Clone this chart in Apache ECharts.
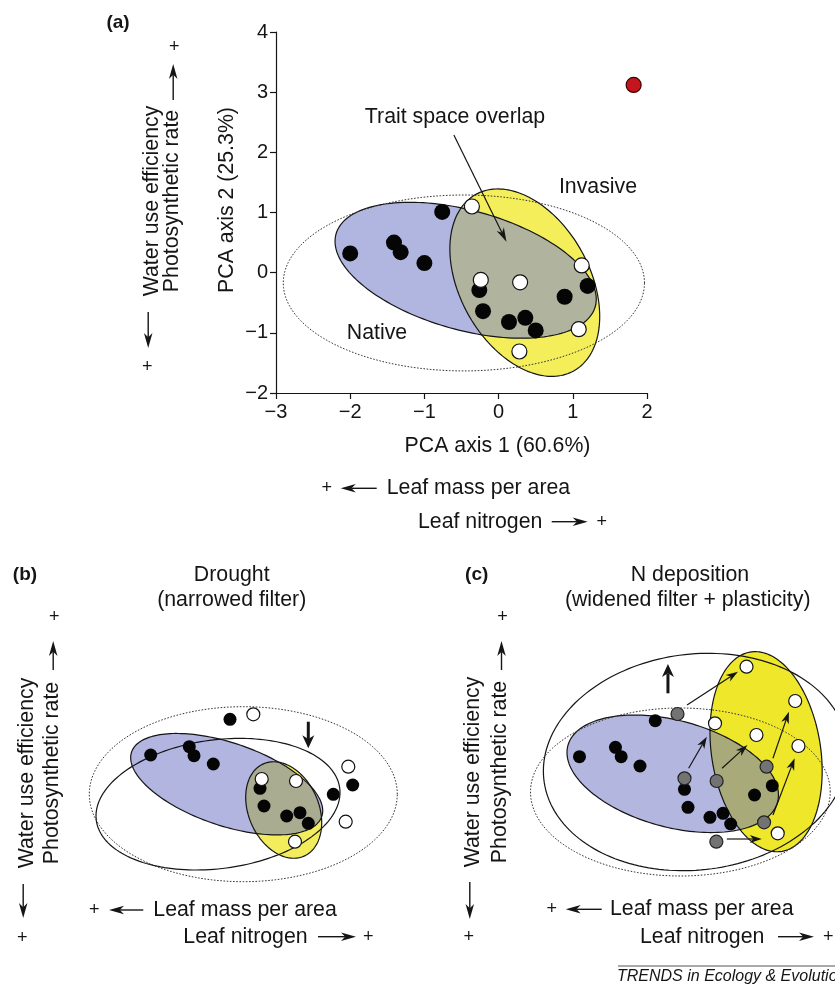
<!DOCTYPE html>
<html><head><meta charset="utf-8">
<script src="https://cdn.jsdelivr.net/npm/echarts@6/dist/echarts.min.js"></script>
<style>html,body{margin:0;padding:0;background:#fff}#chart{width:835px;height:985px}</style>
</head><body><div id="chart"></div>
<script>
// ---------------- DATA ----------------
// Panel (a): PCA scores
const aXTicks = [-3, -2, -1, 0, 1, 2];
const aYTicks = [-2, -1, 0, 1, 2, 3, 4];
const aNativePts = [[-2.00,0.32],[-1.41,0.50],[-1.32,0.34],[-1.00,0.16],[-0.76,1.01],[-0.26,-0.29],[-0.21,-0.64],[0.14,-0.82],[0.36,-0.75],[0.50,-0.96],[0.89,-0.40],[1.20,-0.22]];
const aInvasivePts = [[-0.36,1.10],[-0.24,-0.12],[0.29,-0.16],[1.12,0.12],[1.08,-0.94],[0.28,-1.31]];
const aOutlierPts = [[1.82,3.12]];
// ellipses: [centerX, centerY, half-axis1 dx, dy, half-axis2 dx, dy]
const aNativeEllipse = [-0.444, 0.04, 1.747, -0.603, -0.216, -0.955];
const aInvasiveEllipse = [0.353, -0.166, 0.659, -1.467, -0.765, -0.523];
const aAllEllipse = [-0.468, -0.171, 2.434, 0, 0, 1.462];
const aOverlapArrow = [[-0.603, 2.287, 0.106, 0.515]];

// Panel (b): drought (schematic units)
const bNativePts = [[15.0,18.07],[7.07,14.5],[10.93,15.33],[11.4,14.43],[13.33,13.6],[18.0,11.17],[18.4,9.4],[20.67,8.4],[22.0,8.73],[22.83,7.67],[25.33,10.57],[27.27,11.5]];
const bInvasivePts = [[17.33,18.57],[18.17,12.1],[21.6,11.9],[26.83,13.33],[26.57,7.83],[21.5,5.83]];
const bNativeEllipse = [14.67, 11.58, 9.51, -3.22, -1.327, -3.92];
const bInvasiveEllipse = [20.37, 9.0, 2.027, -4.615, -3.214, -1.41];
const bFilterEllipse = [13.8, 9.58, 12.17, 1.62, 0.852, -6.38];
const bAllEllipse = [16.33, 10.58, 15.4, 0, 0, 8.75];
const bFilterShift = [[22.83, 17.83, 22.83, 15.17]];

// Panel (c): N deposition (schematic units)
const cNativePts = [[6.23,14.33],[10.0,15.27],[10.6,14.33],[12.57,13.4],[14.17,17.93],[17.23,11.07],[17.6,9.27],[19.9,8.27],[21.27,8.67],[22.07,7.6],[24.57,10.5],[26.43,11.43]];
const cInvasiveBefore = [[16.5,18.6],[17.23,12.17],[20.6,11.9],[25.83,13.33],[25.57,7.77],[20.57,5.83]];
const cInvasiveAfter = [[23.73,23.33],[20.43,17.67],[24.77,16.5],[28.83,19.9],[29.17,15.4],[27.0,6.67]];
const cPlasticShifts = [[17.5,19.5,22.83,22.83],[17.67,13.17,19.57,16.33],[21.17,13.17,23.83,15.5],[26.5,14.17,28.17,18.83],[26.5,8.5,28.77,14.17],[21.67,6.1,25.33,6.1]];
const cNativeEllipse = [16.0, 12.62, 11.0, -2.755, -1.30, -5.19];
const cInvasiveEllipse = [25.78, 14.83, 1.684, -9.96, -5.63, -0.952];
const cFilterEllipse = [18.4, 13.8, 15.91, 1.67, 1.129, -10.74];
const cAllEllipse = [16.8, 10.8, 15.7, 0, 0, 8.4];
const cFilterShift = [[15.5, 20.67, 15.5, 23.6]];

// ---------------- HELPERS ----------------
const FONT = '"Liberation Sans", Arial, Helvetica, sans-serif';
const INK = '#151515';
const FS = 21.3;

function ellipsePoints(api, e, n) {
  n = n || 180;
  const pts = [];
  for (let i = 0; i < n; i++) {
    const t = 2 * Math.PI * i / n, c = Math.cos(t), s = Math.sin(t);
    pts.push(api.coord([e[0] + e[2] * c + e[4] * s, e[1] + e[3] * c + e[5] * s]));
  }
  return pts;
}
function clipConvex(subject, clip) {
  let area = 0;
  for (let i = 0; i < clip.length; i++) {
    const p = clip[i], q = clip[(i + 1) % clip.length];
    area += p[0] * q[1] - q[0] * p[1];
  }
  const sg = area > 0 ? 1 : -1;
  let out = subject.slice();
  for (let i = 0; i < clip.length && out.length; i++) {
    const A = clip[i], B = clip[(i + 1) % clip.length];
    const cr = p => sg * ((B[0] - A[0]) * (p[1] - A[1]) - (B[1] - A[1]) * (p[0] - A[0]));
    const inp = out; out = [];
    for (let j = 0; j < inp.length; j++) {
      const P = inp[j], Q = inp[(j + 1) % inp.length];
      const dp = cr(P), dq = cr(Q);
      const inter = () => { const t = dp / (dp - dq); return [P[0] + t * (Q[0] - P[0]), P[1] + t * (Q[1] - P[1])]; };
      if (dp >= 0) { out.push(P); if (dq < 0) out.push(inter()); }
      else if (dq >= 0) out.push(inter());
    }
  }
  return out;
}
function arrowEls(x1, y1, x2, y2, lw, hl, hw, color) {
  color = color || INK;
  const dx = x2 - x1, dy = y2 - y1, L = Math.hypot(dx, dy) || 1;
  const ux = dx / L, uy = dy / L, px = -uy, py = ux;
  const bx = x2 - ux * hl, by = y2 - uy * hl;
  const nx = x2 - ux * hl * 0.72, ny = y2 - uy * hl * 0.72;
  return [
    {type: 'line', shape: {x1: x1, y1: y1, x2: nx, y2: ny}, style: {stroke: color, lineWidth: lw}},
    {type: 'polygon', shape: {points: [[x2, y2], [bx + px * hw / 2, by + py * hw / 2], [nx, ny], [bx - px * hw / 2, by - py * hw / 2]]}, style: {fill: color, stroke: null}}
  ];
}
function ellipseRender(cfg) {
  return function (params, api) {
    const nat = ellipsePoints(api, cfg.native);
    const inv = ellipsePoints(api, cfg.invasive);
    const ov = clipConvex(inv, nat);
    const ch = [];
    ch.push({type: 'polygon', shape: {points: inv}, style: {fill: cfg.yellow, stroke: null}});
    ch.push({type: 'polygon', shape: {points: nat}, style: {fill: cfg.blue, stroke: null}});
    if (ov.length > 2) ch.push({type: 'polygon', shape: {points: ov}, style: {fill: cfg.overlap, stroke: null}});
    ch.push({type: 'polygon', shape: {points: inv}, style: {fill: 'none', stroke: INK, lineWidth: 1.2}});
    ch.push({type: 'polygon', shape: {points: nat}, style: {fill: 'none', stroke: INK, lineWidth: 1.2}});
    if (cfg.filter) ch.push({type: 'polygon', shape: {points: ellipsePoints(api, cfg.filter)}, style: {fill: 'none', stroke: INK, lineWidth: 1.2}});
    ch.push({type: 'polygon', shape: {points: ellipsePoints(api, cfg.all, 240)}, style: {fill: 'none', stroke: '#333', lineWidth: 1, lineDash: [1.6, 1.6]}});
    return {type: 'group', children: ch};
  };
}
function arrowRender(lw, hl, hw) {
  return function (params, api) {
    const p1 = api.coord([api.value(0), api.value(1)]);
    const p2 = api.coord([api.value(2), api.value(3)]);
    return {type: 'group', children: arrowEls(p1[0], p1[1], p2[0], p2[1], lw, hl, hw)};
  };
}
const minusFmt = v => (v < 0 ? '\u2212' + Math.abs(v) : String(v));

// ---------------- GRAPHIC TEXT / DECORATION ----------------
const G = [];
function txt(x, y, s, o) {
  o = o || {};
  const size = o.size || FS;
  G.push({type: 'text', x: x, y: y, rotation: o.rot || 0, silent: true,
    style: {text: s, font: (o.italic ? 'italic ' : '') + (o.bold ? 'bold ' : '') + size + 'px ' + FONT,
      fill: o.color || INK, align: o.align || 'center', verticalAlign: 'middle',
      textAlign: o.align || 'center', textVerticalAlign: 'middle'}});
}
function arr(x1, y1, x2, y2) { arrowEls(x1, y1, x2, y2, 1.4, 15, 8.5).forEach(e => { e.silent = true; G.push(e); }); }

function leftLabels(xWater, xPhoto, yMid, upTip, upTail, plusTop, downTail, downTip, plusBottom) {
  txt(xWater, yMid, 'Water use efficiency', {rot: Math.PI / 2});
  txt(xPhoto, yMid, 'Photosynthetic rate', {rot: Math.PI / 2});
  arr(xPhoto + 1.5, upTail, xPhoto + 1.5, upTip);
  txt(xPhoto + 2.5, plusTop, '+', {size: 18});
  arr(xWater - 3.5, downTail, xWater - 3.5, downTip);
  txt(xWater - 4.5, plusBottom, '+', {size: 18});
}
function bottomLabels(plusX, y1, arrTail, arrTip, textL, textL2, y2, arr2Tail, arr2Tip, plus2X) {
  txt(plusX, y1, '+', {size: 18});
  arr(arrTail, y1, arrTip, y1);
  txt(textL, y1, 'Leaf mass per area', {align: 'left'});
  txt(textL2, y2, 'Leaf nitrogen', {align: 'left'});
  arr(arr2Tail, y2, arr2Tip, y2);
  txt(plus2X, y2, '+', {size: 18});
}

// Panel (a)
txt(118, 23, '(a)', {bold: true, size: 19});
leftLabels(151.7, 171.7, 201, 64, 100, 46.7, 312, 348, 366.7);
txt(455, 117, 'Trait space overlap');
txt(598, 187, 'Invasive');
txt(377, 333, 'Native');
bottomLabels(326.7, 488.3, 376.7, 340.7, 386.7, 418, 521.7, 551.7, 587.7, 601.7);

// Panel (b)
txt(25, 575, '(b)', {bold: true, size: 19});
txt(231.7, 575, 'Drought');
txt(231.7, 600, '(narrowed filter)');
leftLabels(26.7, 51.7, 773, 641, 670, 616.7, 884, 918, 938.3);
bottomLabels(94.3, 910, 143.3, 109, 153.3, 183.3, 936.7, 318, 356, 368.3);

// Panel (c)
txt(476.7, 575, '(c)', {bold: true, size: 19});
txt(690, 575, 'N deposition');
txt(687.7, 600, '(widened filter + plasticity)');
leftLabels(473.3, 500, 772, 641, 670, 616.7, 882, 919, 936.7);
bottomLabels(551.7, 909.3, 601.7, 565.7, 610, 640, 936.7, 778, 814, 828.3);

// footer
G.push({type: 'line', silent: true, shape: {x1: 618, y1: 966, x2: 835, y2: 966}, style: {stroke: '#555', lineWidth: 1}});
txt(617, 977, 'TRENDS in Ecology & Evolution', {italic: true, size: 16, align: 'left'});

// ---------------- CHART ----------------
const chart = echarts.init(document.getElementById('chart'), null, {renderer: 'canvas'});
const hiddenX = (gi) => ({gridIndex: gi, type: 'value', min: 0, max: 33, show: false, splitLine: {show: false}});
const hiddenY = (gi) => ({gridIndex: gi, type: 'value', min: 0, max: 26, show: false, splitLine: {show: false}});
const axisLineStyle = {color: INK, width: 1.2};

const dot = (name, data, xi, size, color, border, z) => ({
  name: name, type: 'scatter', xAxisIndex: xi, yAxisIndex: xi, data: data, symbol: 'circle', symbolSize: size, z: z,
  itemStyle: {color: color, borderColor: border || color, borderWidth: border ? 1.2 : 0, opacity: 1}, silent: true
});

const option = {
  animation: false,
  backgroundColor: '#fff',
  textStyle: {fontFamily: FONT},
  grid: [
    {left: 276, top: 32, width: 371, height: 361},
    {left: 80, top: 640, width: 330, height: 260},
    {left: 520, top: 640, width: 330, height: 260}
  ],
  xAxis: [
    {gridIndex: 0, type: 'value', min: aXTicks[0], max: aXTicks[aXTicks.length - 1], interval: 1,
      axisLine: {show: true, onZero: false, lineStyle: axisLineStyle},
      axisTick: {show: true, length: 6, lineStyle: axisLineStyle},
      axisLabel: {fontSize: 20, color: INK, margin: 9, formatter: minusFmt, fontFamily: FONT},
      splitLine: {show: false},
      name: 'PCA axis 1 (60.6%)', nameLocation: 'middle', nameGap: 43,
      nameTextStyle: {fontSize: FS, color: INK, fontFamily: FONT, padding: [0, 0, 0, 72]}},
    hiddenX(1), hiddenX(2)
  ],
  yAxis: [
    {gridIndex: 0, type: 'value', min: aYTicks[0], max: aYTicks[aYTicks.length - 1], interval: 1,
      axisLine: {show: true, onZero: false, lineStyle: axisLineStyle},
      axisTick: {show: true, length: 6, lineStyle: axisLineStyle},
      axisLabel: {fontSize: 20, color: INK, margin: 8, formatter: minusFmt, fontFamily: FONT},
      splitLine: {show: false},
      name: 'PCA axis 2 (25.3%)', nameLocation: 'middle', nameGap: 38, nameRotate: 90,
      nameTextStyle: {fontSize: FS, color: INK, fontFamily: FONT, padding: [0, 0, 0, 25]}},
    hiddenY(1), hiddenY(2)
  ],
  graphic: G,
  series: [
    {type: 'custom', xAxisIndex: 0, yAxisIndex: 0, data: [[0, 0]], z: 1, silent: true,
      renderItem: ellipseRender({native: aNativeEllipse, invasive: aInvasiveEllipse, all: aAllEllipse,
        blue: '#b1b6e0', yellow: '#f3ee5a', overlap: '#b0b39d'})},
    {type: 'custom', xAxisIndex: 1, yAxisIndex: 1, data: [[0, 0]], z: 1, silent: true,
      renderItem: ellipseRender({native: bNativeEllipse, invasive: bInvasiveEllipse, filter: bFilterEllipse, all: bAllEllipse,
        blue: '#b1b5df', yellow: '#f3ec5c', overlap: '#a9ac90'})},
    {type: 'custom', xAxisIndex: 2, yAxisIndex: 2, data: [[0, 0]], z: 1, silent: true,
      renderItem: ellipseRender({native: cNativeEllipse, invasive: cInvasiveEllipse, filter: cFilterEllipse, all: cAllEllipse,
        blue: '#b3b7e0', yellow: '#efe72a', overlap: '#a9aa7a'})},
    {type: 'custom', xAxisIndex: 0, yAxisIndex: 0, data: aOverlapArrow, z: 3, silent: true, renderItem: arrowRender(1.2, 14, 8)},
    {type: 'custom', xAxisIndex: 1, yAxisIndex: 1, data: bFilterShift, z: 3, silent: true, renderItem: arrowRender(3, 13, 12)},
    {type: 'custom', xAxisIndex: 2, yAxisIndex: 2, data: cFilterShift, z: 3, silent: true, renderItem: arrowRender(3, 13, 12)},
    {type: 'custom', xAxisIndex: 2, yAxisIndex: 2, data: cPlasticShifts, z: 3, silent: true, renderItem: arrowRender(1.2, 12, 8)},
    dot('Native (a)', aNativePts, 0, 16, '#050505', null, 4),
    dot('Invasive (a)', aInvasivePts, 0, 15, '#ffffff', '#111', 6),
    dot('Outlier (a)', aOutlierPts, 0, 15, '#c4161c', '#3a0000', 6),
    dot('Native (b)', bNativePts, 1, 13, '#050505', null, 4),
    dot('Invasive (b)', bInvasivePts, 1, 13, '#ffffff', '#111', 6),
    dot('Native (c)', cNativePts, 2, 13, '#050505', null, 4),
    dot('Invasive before (c)', cInvasiveBefore, 2, 13, '#737373', '#222', 5),
    dot('Invasive after (c)', cInvasiveAfter, 2, 13, '#ffffff', '#111', 6)
  ]
};
chart.setOption(option);
</script>
</body></html>
